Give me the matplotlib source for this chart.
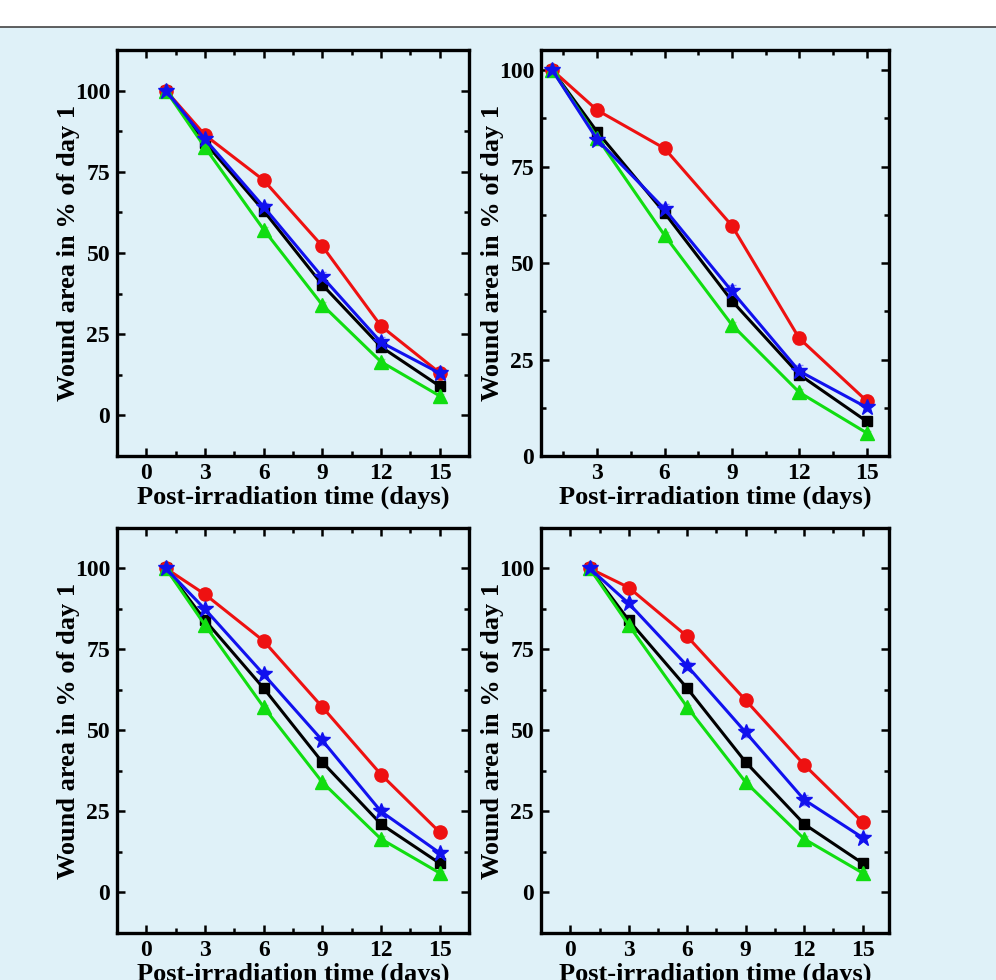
"""Wound area over time after irradiation, four panels."""

import matplotlib
matplotlib.use("Agg")
import matplotlib.pyplot as plt
from matplotlib.ticker import MultipleLocator

plt.rcParams["font.family"] = ["Liberation Serif", "DejaVu Serif"]
plt.rcParams["font.weight"] = "bold"

BG = "#dff1f8"

days = [1, 3, 6, 9, 12, 15]

# control series are the same in every panel
black_vals = [100, 84, 63, 40.2, 21.1, 9]
green_vals = [100, 82.5, 57.2, 34, 16.5, 6]

red_a = [100, 86.3, 72.4, 52.1, 27.5, 13.1]
blue_a = [100, 85, 64.2, 42.6, 22.5, 13]

red_b = [100, 89.6, 79.7, 59.7, 30.5, 14.3]
blue_b = [100, 82, 64, 42.7, 22, 12.6]

red_c = [100, 92, 77.6, 57.2, 36.4, 18.6]
blue_c = [100, 87.4, 67.3, 46.9, 25, 12.2]

red_d = [100, 94.1, 79, 59.3, 39.4, 21.7]
blue_d = [100, 89.2, 69.9, 49.4, 28.6, 16.9]

red_err = [0.5, 1.5, 1.2, 1.2, 1.5, 1.2]
blue_err = [0.5, 1.0, 1.2, 1.5, 1.5, 1.0]
black_err = [0.5, 0.8, 0.8, 0.8, 0.8, 0.6]
green_err = [0.5, 0.8, 0.8, 0.8, 0.8, 0.6]

panels = [
    # (red, blue, rect, xlim, ylim)
    (red_a, blue_a, [0.1175, 0.5347, 0.3534, 0.4143], (-1.5, 16.5), (-12.5, 112.5)),
    (red_b, blue_b, [0.5432, 0.5347, 0.3494, 0.4143], (0.5, 16.0), (0, 105.2)),
    (red_c, blue_c, [0.1175, 0.0480, 0.3534, 0.4133], (-1.5, 16.5), (-12.5, 112.5)),
    (red_d, blue_d, [0.5432, 0.0480, 0.3494, 0.4133], (-1.5, 16.35), (-12.5, 112.5)),
]


def main() -> None:
    fig = plt.figure(figsize=(9.96, 9.80), dpi=100, facecolor=BG)

    # white strip with a rule across the top
    fig.patches.append(plt.Rectangle((0, 0.9724), 1, 0.0276, transform=fig.transFigure,
                                     facecolor="white", edgecolor="none", zorder=0))
    fig.lines.append(plt.Line2D([0, 1], [0.9724, 0.9724], transform=fig.transFigure,
                                color="#444444", linewidth=1.2))

    for red, blue, rect, xlim, ylim in panels:
        ax = fig.add_axes(rect)
        ax.set_facecolor(BG)

        ax.errorbar(days, black_vals, yerr=black_err, color="black", marker="s",
                    markersize=7.5, linewidth=2.2, ecolor="#555555", elinewidth=1, capsize=3)
        ax.errorbar(days, red, yerr=red_err, color="#ee1111", marker="o",
                    markersize=9.5, linewidth=2.2, ecolor="#f08080", elinewidth=1, capsize=3)
        ax.errorbar(days, green_vals, yerr=green_err, color="#11dd11", marker="^",
                    markersize=9.5, linewidth=2.2, ecolor="#88ee88", elinewidth=1, capsize=3)
        ax.errorbar(days, blue, yerr=blue_err, color="#1111ee", marker="*",
                    markersize=12, linewidth=2.2, ecolor="#8888ff", elinewidth=1, capsize=3)

        ax.set_xlim(*xlim)
        ax.set_ylim(*ylim)
        ax.xaxis.set_major_locator(MultipleLocator(3))
        ax.xaxis.set_minor_locator(MultipleLocator(1.5))
        ax.yaxis.set_major_locator(MultipleLocator(25))
        ax.yaxis.set_minor_locator(MultipleLocator(12.5))
        ax.tick_params(which="both", direction="in", top=True, right=True,
                       width=1.8, labelsize=17)
        ax.tick_params(which="major", length=6, pad=5)
        ax.tick_params(which="minor", length=3.5)
        for spine in ax.spines.values():
            spine.set_linewidth(2.4)

        ax.set_xlabel("Post-irradiation time (days)", fontsize=19, fontweight="bold")
        ax.set_ylabel("Wound area in % of day 1", fontsize=19, fontweight="bold")
        ax.xaxis.set_label_coords(0.5, -0.072)
        ax.yaxis.set_label_coords(-0.105, 0.5)

    fig.savefig("out.png", dpi=100, facecolor=BG)


if __name__ == "__main__":
    main()
